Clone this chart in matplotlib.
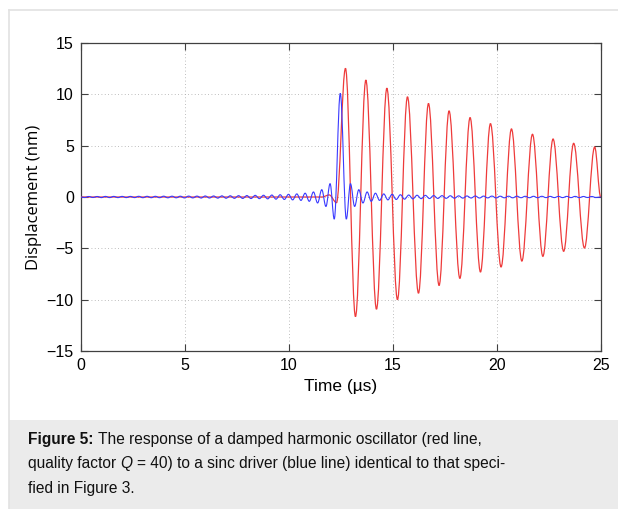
import matplotlib
matplotlib.use('Agg')
import matplotlib.pyplot as plt
from matplotlib.lines import Line2D
from matplotlib.patches import Rectangle, PathPatch
from matplotlib.path import Path
from matplotlib.transforms import IdentityTransform

# Red line: damped oscillator response, extrema (time in us, displacement in nm)
red_t = [0.0, 11.60, 11.95, 12.30, 12.73, 13.21, 13.71, 14.22, 14.72, 15.23, 15.71, 16.24,
         16.72, 17.23, 17.71, 18.23, 18.72, 19.22, 19.70, 20.21, 20.71, 21.21, 21.72,
         22.22, 22.71, 23.22, 23.70, 24.22, 24.71, 25.0]
red_v = [0.0, 0.0, 0.20, -0.55, 12.53, -11.65, 11.39, -10.93, 10.60, -10.00, 9.76, -9.37,
         9.11, -8.62, 8.39, -7.93, 7.74, -7.31, 7.15, -6.82, 6.63, -6.24, 6.11,
         -5.78, 5.65, -5.29, 5.23, -4.97, 4.87, 0.0]

# Blue line: sinc driver, extrema
blue_left_t = [0.0, 0.19, 0.39, 0.59, 0.79, 0.99, 1.19, 1.39, 1.59, 1.79, 1.99, 2.19, 2.39,
               2.59, 2.79, 2.99, 3.19, 3.39, 3.59, 3.79, 3.99, 4.19, 4.39, 4.59, 4.79,
               4.99, 5.19, 5.39, 5.59, 5.79, 5.99, 6.19, 6.39, 6.59, 6.79, 6.99, 7.19,
               7.39, 7.59, 7.79, 7.99, 8.19, 8.39, 8.59, 8.79, 8.99, 9.19, 9.39, 9.59,
               9.79, 9.99, 10.19, 10.39, 10.59, 10.79, 10.99, 11.19, 11.39, 11.59, 11.79,
               11.99, 12.19]
blue_left_v = [0.0, -0.05, 0.05, -0.05, 0.05, -0.06, 0.06, -0.06, 0.06, -0.06, 0.06, -0.06, 0.06,
               -0.06, 0.07, -0.07, 0.07, -0.07, 0.07, -0.07, 0.08, -0.08, 0.08, -0.08, 0.08,
               -0.09, 0.09, -0.09, 0.09, -0.10, 0.10, -0.10, 0.10, -0.11, 0.11, -0.12, 0.12,
               -0.13, 0.13, -0.14, 0.14, -0.15, 0.16, -0.16, 0.17, -0.18, 0.19, -0.21, 0.22,
               -0.24, 0.26, -0.28, 0.30, -0.33, 0.37, -0.42, 0.49, -0.58, 0.71, -0.92,
               1.30, -2.15]
blue_peak_t = [12.48]
blue_peak_v = [10.09]
blue_right_t = [12.77, 12.97, 13.17, 13.37, 13.57, 13.77, 13.97, 14.17, 14.37, 14.57, 14.77,
                14.97, 15.17, 15.37, 15.57, 15.77, 15.97, 16.17, 16.37, 16.57, 16.77, 16.97,
                17.17, 17.37, 17.57, 17.77, 17.97, 18.17, 18.37, 18.57, 18.77, 18.97, 19.17,
                19.37, 19.57, 19.77, 19.97, 20.17, 20.37, 20.57, 20.77, 20.97, 21.17, 21.37,
                21.57, 21.77, 21.97, 22.17, 22.37, 22.57, 22.77, 22.97, 23.17, 23.37, 23.57,
                23.77, 23.97, 24.17, 24.37, 24.57, 24.77, 25.0]
blue_right_v = [-2.15, 1.30, -0.92, 0.71, -0.58, 0.49, -0.42, 0.37, -0.33, 0.30, -0.28,
                0.26, -0.24, 0.22, -0.21, 0.19, -0.18, 0.17, -0.16, 0.16, -0.15, 0.14,
                -0.14, 0.13, -0.13, 0.12, -0.12, 0.11, -0.11, 0.10, -0.10, 0.10, -0.10,
                0.09, -0.09, 0.09, -0.09, 0.08, -0.08, 0.08, -0.08, 0.08, -0.07, 0.07,
                -0.07, 0.07, -0.07, 0.07, -0.06, 0.06, -0.06, 0.06, -0.06, 0.06, -0.06,
                0.06, -0.06, 0.05, -0.05, 0.05, -0.05, 0.0]

x_ticks = [0, 5, 10, 15, 20, 25]
y_ticks = [-15, -10, -5, 0, 5, 10, 15]

plt.rcParams['font.family'] = ['Liberation Sans', 'DejaVu Sans']
plt.rcParams['axes.unicode_minus'] = True

W, H = 618, 509
fig = plt.figure(figsize=(W / 100, H / 100), dpi=100)
fig.patch.set_facecolor('white')

# page frame and caption panel
fig.add_artist(Rectangle((9 / W, 0), 1 - 9 / W, 89 / H, transform=fig.transFigure,
                         facecolor='#ebebeb', edgecolor='none', zorder=0))
fig.add_artist(Line2D([9 / W, 9 / W], [0, 1 - 10 / H], transform=fig.transFigure,
                      color='#e2e2e2', lw=1.2))
fig.add_artist(Line2D([9 / W, 1], [1 - 10 / H, 1 - 10 / H], transform=fig.transFigure,
                      color='#e2e2e2', lw=1.2))

ax = fig.add_axes([80.7 / W, 1 - 351 / H, 520 / W, 308 / H])


def smooth_line(ax, ts, vs, color, lw, z):
    # join the read extrema with flat-tangent bezier segments (sine-like swing)
    k = 0.364
    verts = [(ts[0], vs[0])]
    codes = [Path.MOVETO]
    for i in range(1, len(ts)):
        dt = ts[i] - ts[i - 1]
        verts += [(ts[i - 1] + k * dt, vs[i - 1]), (ts[i] - k * dt, vs[i]), (ts[i], vs[i])]
        codes += [Path.CURVE4] * 3
    ax.add_patch(PathPatch(Path(verts, codes), fill=False, edgecolor=color, lw=lw, zorder=z))


smooth_line(ax, red_t, red_v, '#ee3b3b', 0.9, 3)
blue_t = blue_left_t + blue_peak_t + blue_right_t
blue_v = blue_left_v + blue_peak_v + blue_right_v
smooth_line(ax, blue_t, blue_v, '#3a3aff', 0.8, 4)

ax.set_xlim(0, 25)
ax.set_ylim(-15, 15)
ax.set_xticks(x_ticks)
ax.set_yticks(y_ticks)
ax.grid(True, linestyle=(0, (1, 3)), color='#a8a8a8', lw=0.6)
ax.tick_params(direction='in', top=True, right=True, length=5, width=0.8,
               color='#404040', labelsize=11.5, pad=5, labelcolor='black')
for sp in ax.spines.values():
    sp.set_color('#404040')
    sp.set_linewidth(0.9)

ax.set_xlabel('Time (µs)', fontsize=12.5, labelpad=4)
ax.set_ylabel('Displacement (nm)', fontsize=12, family='Open Sans', labelpad=3)

# caption with mixed bold / italic pieces
renderer = fig.canvas.get_renderer()
cap_size = 11.2


def text_width(s, **kw):
    t = fig.text(0, 0, s, fontsize=cap_size, transform=IdentityTransform(), **kw)
    w = t.get_window_extent(renderer).width
    t.remove()
    return w


space = text_width('x x') - text_width('xx')


def caption_line(pieces, x0, y_top):
    x = x0
    y = H - y_top
    for s, kw in pieces:
        t = fig.text(x, y, s, fontsize=cap_size, transform=IdentityTransform(),
                     va='baseline', color='#111111', **kw)
        x = t.get_window_extent(renderer).x1 + space


caption_line([('Figure 5:', dict(fontweight='bold')),
              ('The response of a damped harmonic oscillator (red line,', {})], 28, 444)
caption_line([('quality factor', {}), ('Q', dict(fontstyle='italic')),
              ('= 40) to a sinc driver (blue line) identical to that speci-', {})], 28, 468)
caption_line([('fied in Figure 3.', {})], 28, 493)

fig.savefig('out.png', dpi=100)
